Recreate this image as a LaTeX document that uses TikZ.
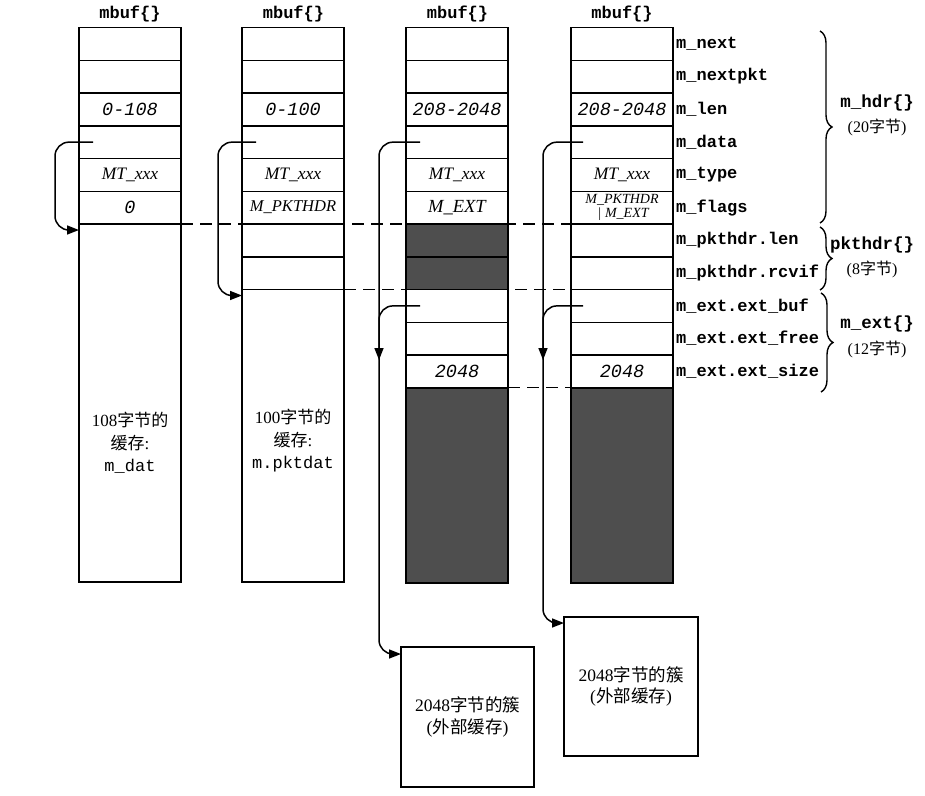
\documentclass[tikz,border=0pt]{standalone}
\usepackage{fontspec}
\setmainfont{Liberation Serif}
\setmonofont{Liberation Mono}
\newfontfamily\cjk{Noto Sans CJK SC}
\usetikzlibrary{arrows.meta,calc,decorations.pathreplacing}
\definecolor{shadefill}{RGB}{78,78,78}
\begin{document}
\begin{tikzpicture}[x=1pt,y=-1pt,
  cell/.style={draw, line width=1.5pt, minimum width=102pt, minimum height=32.75pt,
    inner sep=0pt, outer sep=0pt, anchor=north west, font=\rmfamily\fontsize{17}{20}\selectfont},
  shaded/.style={cell, fill=shadefill},
  num/.style={font=\ttfamily\itshape\fontsize{18.5}{20}\selectfont},
  ser/.style={font=\rmfamily\itshape\fontsize{17.5}{20}\selectfont},
  fld/.style={anchor=west, inner sep=0pt, font=\ttfamily\bfseries\fontsize{17}{20}\selectfont},
  hdr/.style={font=\ttfamily\bfseries\fontsize{17}{20}\selectfont},
  txt/.style={align=center, font=\rmfamily\fontsize{17}{22.5}\selectfont},
  blab/.style={font=\ttfamily\bfseries\fontsize{17.5}{20}\selectfont},
  bsub/.style={font=\rmfamily\fontsize{16}{20}\selectfont},
  ptr/.style={draw, line width=1.5pt, rounded corners=14pt, -{Triangle[length=12pt,width=9pt]}},
  dline/.style={draw, line width=1.3pt, dash pattern=on 12pt off 7pt},
  brace/.style={decorate, decoration={brace, amplitude=12pt}, line width=1.4pt},
  clus/.style={draw, line width=1.5pt, anchor=north west, inner sep=0pt, outer sep=0pt,
    align=center, font=\rmfamily\fontsize{17.5}{21.5}\selectfont}
]
\useasboundingbox (0,0) rectangle (925,795);

% headers
\node[hdr] (h1) at (130,14) {mbuf\{\}};
\node[hdr] (h2) at (293.5,14) {mbuf\{\}};
\node[hdr] (h3) at (457.5,14) {mbuf\{\}};
\node[hdr] (h4) at (622,14) {mbuf\{\}};

% column 1
\node[cell] (a0) at (79,27.5) {};
\node[cell] (a1) at (79,60.25) {};
\node[cell,num] (a2) at (79,93) {0-108};
\node[cell] (a3) at (79,125.75) {};
\node[cell,ser] (a4) at (79,158.5) {MT\_xxx};
\node[cell,num] (a5) at (79,191.25) {0};
\node[cell, minimum height=358pt] (a6) at (79,224) {};
\node[txt] (t1) at (130,443) {108{\cjk 字节的}\\{\cjk 缓存}:\\{\ttfamily m\_dat}};

% column 2
\node[cell] (b0) at (242,27.5) {};
\node[cell] (b1) at (242,60.25) {};
\node[cell,num] (b2) at (242,93) {0-100};
\node[cell] (b3) at (242,125.75) {};
\node[cell,ser] (b4) at (242,158.5) {MT\_xxx};
\node[cell,ser,font=\rmfamily\itshape\fontsize{16.5}{20}\selectfont] (b5) at (242,191.25) {M\_PKTHDR};
\node[cell] (b6) at (242,224) {};
\node[cell] (b7) at (242,256.75) {};
\node[cell, minimum height=292.5pt] (b8) at (242,289.5) {};
\node[txt] (t2) at (293,441) {100{\cjk 字节的}\\{\cjk 缓存}:\\{\ttfamily m.pktdat}};

% column 3
\node[cell] (c0) at (406,27.5) {};
\node[cell] (c1) at (406,60.25) {};
\node[cell,num] (c2) at (406,93) {208-2048};
\node[cell] (c3) at (406,125.75) {};
\node[cell,ser] (c4) at (406,158.5) {MT\_xxx};
\node[cell,ser,font=\rmfamily\itshape\fontsize{18.5}{20}\selectfont] (c5) at (406,191.25) {M\_EXT};
\node[shaded] (c6) at (406,224) {};
\node[shaded] (c7) at (406,256.75) {};
\node[cell] (c8) at (406,289.5) {};
\node[cell] (c9) at (406,322.25) {};
\node[cell,num] (c10) at (406,355) {2048};
\node[shaded, minimum height=195.25pt] (c11) at (406,387.75) {};

% column 4
\node[cell] (d0) at (571,27.5) {};
\node[cell] (d1) at (571,60.25) {};
\node[cell,num] (d2) at (571,93) {208-2048};
\node[cell] (d3) at (571,125.75) {};
\node[cell,ser] (d4) at (571,158.5) {MT\_xxx};
\node[cell,align=center,font=\rmfamily\itshape\fontsize{14}{14.5}\selectfont] (d5) at (571,191.25) {M\_PKTHDR\\\,| M\_EXT};
\node[cell] (d6) at (571,224) {};
\node[cell] (d7) at (571,256.75) {};
\node[cell] (d8) at (571,289.5) {};
\node[cell] (d9) at (571,322.25) {};
\node[cell,num] (d10) at (571,355) {2048};
\node[shaded, minimum height=195.25pt] (d11) at (571,387.75) {};

% field names
\node[fld] (l0) at (676,44) {m\_next};
\node[fld] (l1) at (676,76.6) {m\_nextpkt};
\node[fld] (l2) at (676,109.4) {m\_len};
\node[fld] (l3) at (676,142.1) {m\_data};
\node[fld] (l4) at (676,174.9) {m\_type};
\node[fld] (l5) at (676,207.6) {m\_flags};
\node[fld] (l6) at (676,240.4) {m\_pkthdr.len};
\node[fld] (l7) at (676,273.1) {m\_pkthdr.rcvif};
\node[fld] (l8) at (676,305.9) {m\_ext.ext\_buf};
\node[fld] (l9) at (676,338.6) {m\_ext.ext\_free};
\node[fld] (l10) at (676,371.4) {m\_ext.ext\_size};

% braces
\draw[brace] (820,31) -- (820,223);
\draw[brace] (820,227) -- (820,290);
\draw[brace] (821,293) -- (821,392);
\node[blab] (g1) at (877,103) {m\_hdr\{\}};
\node[bsub] (g1s) at (877,127) {(20{\cjk 字节})};
\node[blab] (g2) at (872,245) {pkthdr\{\}};
\node[bsub] (g2s) at (872,269) {(8{\cjk 字节})};
\node[blab] (g3) at (877,324) {m\_ext\{\}};
\node[bsub] (g3s) at (877,349) {(12{\cjk 字节})};

% clusters
\node[clus, minimum width=133pt, minimum height=140pt] (k1) at (401,647) {2048{\cjk 字节的簇}\\({\cjk 外部缓存})};
\node[clus, minimum width=134pt, minimum height=139pt] (k2) at (564,617) {2048{\cjk 字节的簇}\\({\cjk 外部缓存})};

% dashed lines
\draw[dline] (a5.south east) -- (d5.south west);
\draw[dline] (b7.south east) -- (d7.south west);
\draw[dline] (c10.south east) -- (d10.south west);

% pointers
\coordinate (s1) at ($(a3.west)+(14,0)$);
\draw[ptr] (s1) -- ++(-38,0) |- ($(a6.north west)+(0,6)$);
\coordinate (s2) at ($(b3.west)+(14,0)$);
\draw[ptr] (s2) -- ++(-38,0) |- ($(b8.north west)+(0,6)$);
\coordinate (s3) at ($(c3.west)+(14,0)$);
\draw[ptr] (s3) -- ++(-41,0) |- ($(k1.north west)+(0,7)$);
\coordinate (s3b) at ($(c8.west)+(14,0)$);
\coordinate (e3) at (379,360);
\draw[ptr] (s3b) -- ++(-41,0) -- (e3);
\coordinate (s4) at ($(d3.west)+(12,0)$);
\draw[ptr] (s4) -- ++(-40,0) |- ($(k2.north west)+(0,6)$);
\coordinate (s4b) at ($(d8.west)+(12,0)$);
\coordinate (e4) at (543,360);
\draw[ptr] (s4b) -- ++(-40,0) -- (e4);
\end{tikzpicture}
\end{document}
